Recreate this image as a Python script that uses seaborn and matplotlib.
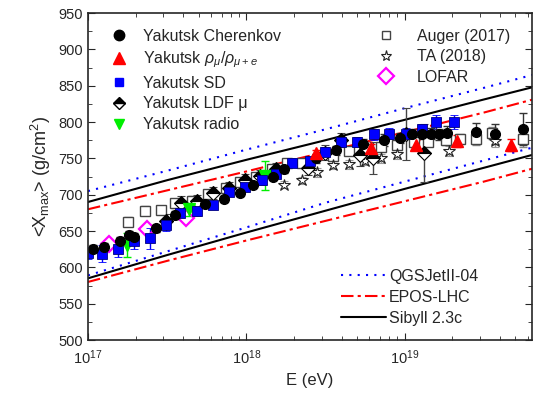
import numpy as np
import pandas as pd
import matplotlib
matplotlib.use("Agg")
import matplotlib.pyplot as plt
from matplotlib.lines import Line2D
import seaborn as sns

# --- data (log10 of energy in eV, Xmax in g/cm^2, error) ---
cher_lgE = [17.03, 17.10, 17.20, 17.26, 17.29, 17.43, 17.55, 17.74, 17.86, 17.96, 18.04, 18.17, 18.24,
            18.44, 18.57, 18.74, 18.87, 18.97, 19.05, 19.11, 19.17, 19.22, 19.27, 19.45, 19.57, 19.75]
cher_X = [626, 628, 637, 644, 642, 654, 672, 687, 694, 702, 714, 724, 735,
          750, 761, 770, 775, 778, 784, 784, 784, 783, 785, 787, 784, 790]
cher_err = [5, 5, 5, 6, 6, 5, 5, 4, 4, 4, 4, 4, 5, 6, 6, 6, 8, 7, 7, 8, 8, 8, 9, 12, 14, 22]

rho_lgE = [18.44, 18.79, 19.07, 19.33, 19.67]
rho_X = [757, 764, 769, 774, 768]
rho_err = [5, 6, 6, 8, 8]

sd_lgE = [17.00, 17.09, 17.19, 17.29, 17.39, 17.49, 17.58, 17.69, 17.79, 17.89, 17.99, 18.10, 18.19,
          18.29, 18.40, 18.50, 18.60, 18.70, 18.81, 18.90, 19.01, 19.11, 19.20, 19.31]
sd_X = [620, 619, 625, 636, 640, 658, 675, 677, 686, 704, 711, 720, 729,
        744, 746, 759, 772, 772, 783, 784, 784, 790, 800, 800]
sd_err = [8, 12, 10, 10, 14, 8, 6, 6, 5, 6, 5, 6, 6, 6, 6, 7, 7, 7, 8, 8, 8, 8, 10, 10]

ldf_lgE = [17.49, 17.59, 17.69, 17.79, 17.89, 17.99, 18.09, 18.19, 18.39, 18.50, 18.60, 18.72, 18.80, 19.01, 19.12]
ldf_X = [664, 688, 692, 702, 709, 720, 726, 736, 737, 758, 775, 755, 750, 784, 757]
ldf_err = [10, 10, 8, 8, 8, 8, 8, 8, 10, 10, 10, 16, 22, 36, 40]

radio_lgE = [17.245, 17.64, 18.12]
radio_X = [631, 681, 726]
radio_err = [16, 10, 20]

auger_lgE = [17.25, 17.36, 17.46, 17.55, 17.66, 17.76, 17.87, 17.96, 18.06, 18.16, 18.26, 18.35,
             18.55, 18.65, 18.75, 18.85, 18.95, 19.06, 19.15, 19.26, 19.35, 19.45, 19.55, 19.75]
auger_X = [663, 678, 679, 688, 692, 701, 709, 718, 725, 736, 743, 744,
           753, 760, 763, 765, 768, 772, 772, 775, 777, 776, 785, 776]
auger_err = [6, 6, 6, 6, 6, 5, 5, 5, 5, 5, 5, 5, 5, 5, 5, 5, 5, 5, 5, 6, 6, 7, 8, 10]

ta_lgE = [18.24, 18.35, 18.45, 18.55, 18.65, 18.75, 18.85, 18.95, 19.28, 19.57]
ta_X = [714, 720, 731, 741, 742, 747, 750, 756, 760, 774]
ta_err = [5, 5, 6, 6, 6, 6, 6, 7, 7, 8]

lofar_lgE = [17.13, 17.37, 17.62]
lofar_X = [632, 653, 668]

model_lgE = [17.0, 17.5, 18.0, 18.5, 19.0, 19.5, 19.81]
qgs_up = [705, 733, 762, 790, 819, 847, 865]
qgs_lo = [589, 622, 655, 689, 718, 747, 765]
epos_up = [680, 706, 732, 759, 786, 813, 831]
epos_lo = [580, 609, 637, 664, 691, 718, 736]
sib_up = [690, 720, 748, 775, 803, 831, 848]
sib_lo = [585, 617, 648, 678, 708, 737, 755]

sns.set_style("ticks", {"xtick.direction": "in", "ytick.direction": "in"})
plt.rcParams["font.family"] = ["Liberation Sans", "DejaVu Sans"]
plt.rcParams["mathtext.fontset"] = "custom"
plt.rcParams["mathtext.rm"] = "Liberation Sans"
plt.rcParams["mathtext.it"] = "Liberation Sans:italic"

fig, ax = plt.subplots(figsize=(5.43, 3.95), dpi=100)
fig.subplots_adjust(left=0.162, right=0.98, top=0.967, bottom=0.139)

E = lambda lg: np.power(10.0, np.array(lg))

# model lines
for up, lo, col, ls in [(qgs_up, qgs_lo, "blue", (0, (1, 3))),
                        (epos_up, epos_lo, "red", (0, (6, 2, 1.5, 2))),
                        (sib_up, sib_lo, "black", "-")]:
    for vals in (up, lo):
        sns.lineplot(x=E(model_lgE), y=vals, color=col, linestyle=ls, lw=1.5, ax=ax)

def series(lg, X, err, color, ecolor, marker, ms, **kw):
    ax.errorbar(E(lg), X, yerr=err, fmt=marker, color=color, ecolor=ecolor, ms=ms,
                elinewidth=1, capsize=3, capthick=1, **kw)

series(auger_lgE, auger_X, auger_err, "#444444", "#888888", "s", 7, mfc="white", mew=1)
series(ta_lgE, ta_X, ta_err, "#222222", "#999999", "*", 9, mfc="white", mew=0.8)
series(ldf_lgE, ldf_X, ldf_err, "black", "#444444", "D", 7, fillstyle="top", mfc="black",
       mfcalt="white", mec="black", mew=0.8)
series(radio_lgE, radio_X, radio_err, "#00ee00", "#00ee00", "v", 8)
series(sd_lgE, sd_X, sd_err, "blue", "blue", "s", 6.5, mec="#000080", mew=0.6)
series(cher_lgE, cher_X, cher_err, "black", "#333333", "o", 7)
series(rho_lgE, rho_X, rho_err, "red", "red", "^", 8.5)
ax.plot(E(lofar_lgE), lofar_X, "D", ms=8, mfc="none", mec="#ff00ff", mew=1.6)

ax.set_xscale("log")
ax.set_xlim(1e17, 6.4e19)
ax.set_ylim(500, 950)
ax.set_yticks(np.arange(500, 951, 50))
ax.set_yticks(np.arange(525, 950, 50), minor=True)
ax.tick_params(which="both", top=True, right=True, labelsize=10.5)
ax.tick_params(which="major", length=5)
ax.tick_params(which="minor", length=3)
ax.tick_params(axis="x", which="major", pad=6)
for s in ax.spines.values():
    s.set_linewidth(1.2)
ax.set_xlabel("E (eV)", fontsize=12)
ax.set_ylabel(r"<X$_{\rm max}$> (g/cm$^2$)", fontsize=13)

# legends
h1 = [Line2D([], [], ls="none", marker="o", color="black", ms=7.5),
      Line2D([], [], ls="none", marker="^", color="red", ms=8),
      Line2D([], [], ls="none", marker="s", color="blue", ms=6),
      Line2D([], [], ls="none", marker="D", fillstyle="top", mfc="black", mfcalt="white", mec="black", ms=6),
      Line2D([], [], ls="none", marker="v", color="#00ee00", ms=7)]
l1 = ax.legend(h1, ["Yakutsk Cherenkov", r"Yakutsk $\rho_{\mu}/\rho_{\mu+e}$", "Yakutsk SD",
                    "Yakutsk LDF μ", "Yakutsk radio"],
               loc="upper left", bbox_to_anchor=(0.02, 0.972), frameon=False, fontsize=11.5,
               handletextpad=0.5, labelspacing=0.36, borderaxespad=0)
ax.add_artist(l1)
h2 = [Line2D([], [], ls="none", marker="s", mfc="white", mec="#444444", ms=6),
      Line2D([], [], ls="none", marker="*", mfc="white", mec="#222222", ms=8, mew=0.8),
      Line2D([], [], ls="none", marker="D", mfc="none", mec="#ff00ff", ms=8, mew=1.6)]
l2 = ax.legend(h2, ["Auger (2017)", "TA (2018)", "LOFAR"], loc="upper left",
               bbox_to_anchor=(0.62, 0.972), frameon=False, fontsize=11.5,
               handletextpad=0.95, labelspacing=0.36, borderaxespad=0)
ax.add_artist(l2)
h3 = [Line2D([], [], color="blue", ls=(0, (1, 3)), lw=1.5),
      Line2D([], [], color="red", ls=(0, (6, 2, 1.5, 2)), lw=1.5),
      Line2D([], [], color="black", lw=1.5)]
ax.legend(h3, ["QGSJetII-04", "EPOS-LHC", "Sibyll 2.3c"], loc="lower left",
          bbox_to_anchor=(0.555, 0.025), frameon=False, fontsize=11.5, handlelength=2.8,
          handletextpad=0.2, labelspacing=0.36, borderaxespad=0)

fig.savefig("out.png", dpi=100)
